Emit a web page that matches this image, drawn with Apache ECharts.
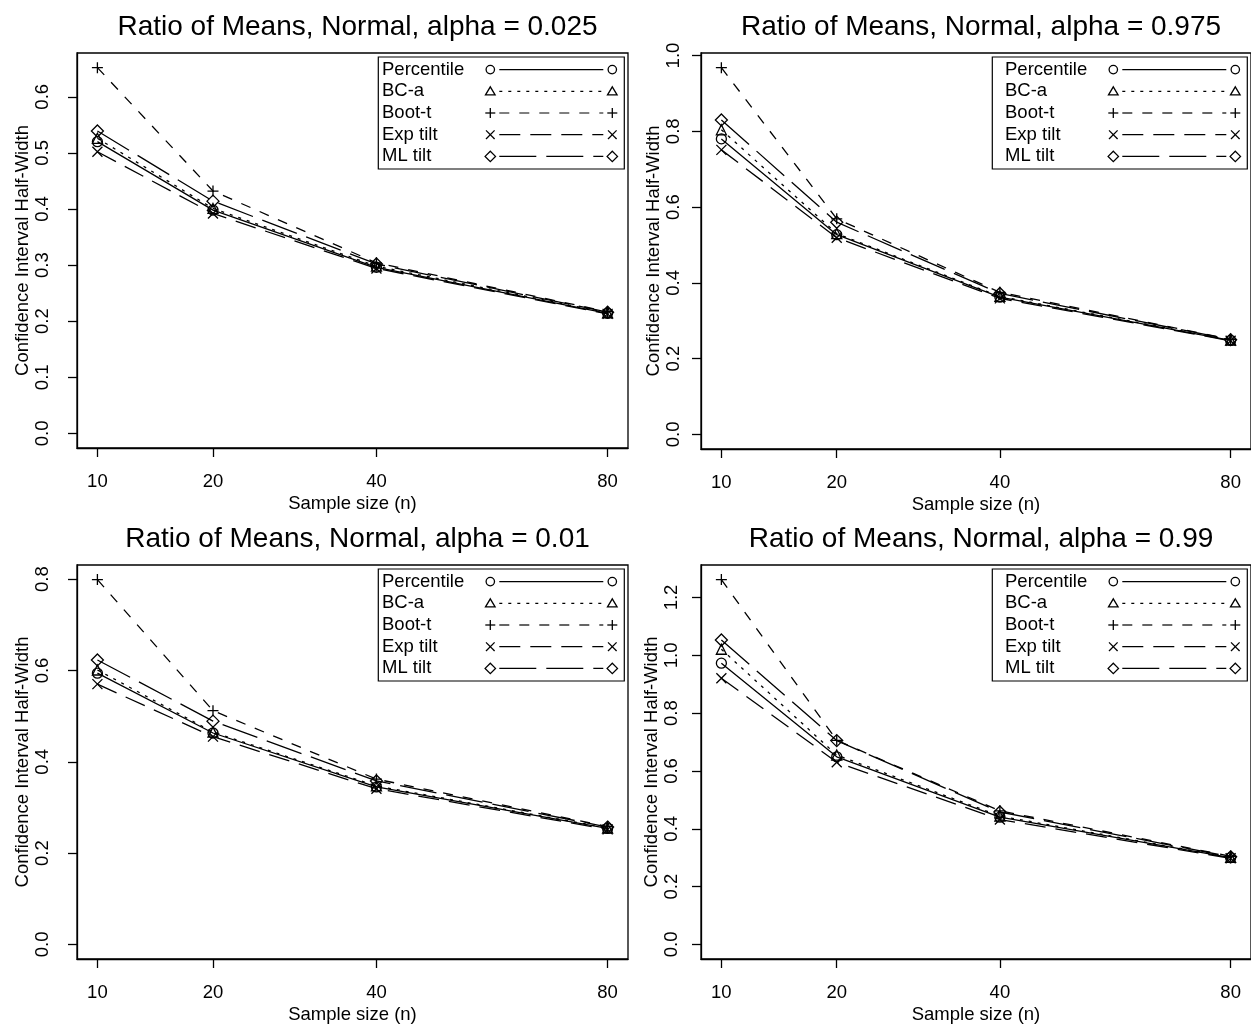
<!DOCTYPE html>
<html><head><meta charset="utf-8">
<script src="https://cdn.jsdelivr.net/npm/echarts@6/dist/echarts.min.js"></script>
<style>html,body{margin:0;padding:0;background:#fff}#c{width:1251px;height:1028px}</style>
</head><body><div id="c"></div>
<script>
// ---------- data ----------
const sampleSizes = [10, 20, 40, 80];
const methodNames = ['Percentile', 'BC-a', 'Boot-t', 'Exp tilt', 'ML tilt'];
const panelTitles = [
  'Ratio of Means, Normal, alpha = 0.025',
  'Ratio of Means, Normal, alpha = 0.975',
  'Ratio of Means, Normal, alpha = 0.01',
  'Ratio of Means, Normal, alpha = 0.99'
];
const xAxisTitle = 'Sample size (n)';
const yAxisTitle = 'Confidence Interval Half-Width';

// alpha = 0.025
const a025_percentile = [0.520, 0.398, 0.296, 0.214];
const a025_bca        = [0.526, 0.401, 0.298, 0.215];
const a025_boott      = [0.652, 0.432, 0.304, 0.217];
const a025_exptilt    = [0.502, 0.392, 0.294, 0.213];
const a025_mltilt     = [0.539, 0.414, 0.302, 0.216];
// alpha = 0.975
const a975_percentile = [0.780, 0.527, 0.362, 0.248];
const a975_bca        = [0.804, 0.530, 0.364, 0.249];
const a975_boott      = [0.968, 0.569, 0.375, 0.251];
const a975_exptilt    = [0.751, 0.519, 0.359, 0.247];
const a975_mltilt     = [0.830, 0.560, 0.372, 0.250];
// alpha = 0.01
const a01_percentile  = [0.594, 0.463, 0.345, 0.254];
const a01_bca         = [0.601, 0.465, 0.347, 0.255];
const a01_boott       = [0.799, 0.512, 0.362, 0.258];
const a01_exptilt     = [0.570, 0.455, 0.341, 0.252];
const a01_mltilt      = [0.623, 0.489, 0.358, 0.257];
// alpha = 0.99
const a99_percentile  = [0.973, 0.649, 0.440, 0.300];
const a99_bca         = [1.021, 0.655, 0.444, 0.301];
const a99_boott       = [1.262, 0.706, 0.462, 0.305];
const a99_exptilt     = [0.921, 0.630, 0.432, 0.298];
const a99_mltilt      = [1.053, 0.705, 0.458, 0.303];

// y tick labels per panel
const yTicks025 = [0.0, 0.1, 0.2, 0.3, 0.4, 0.5, 0.6];
const yTicks975 = [0.0, 0.2, 0.4, 0.6, 0.8, 1.0];
const yTicks01  = [0.0, 0.2, 0.4, 0.6, 0.8];
const yTicks99  = [0.0, 0.2, 0.4, 0.6, 0.8, 1.0, 1.2];

// ---------- layout / style ----------
const panels = [
  {data: [a025_percentile, a025_bca, a025_boott, a025_exptilt, a025_mltilt], ticks: yTicks025,
   grid: {left: 77, top: 53, width: 551, height: 395}, legW: 246, labMargin: 25, nameGap: 45},
  {data: [a975_percentile, a975_bca, a975_boott, a975_exptilt, a975_mltilt], ticks: yTicks975,
   grid: {left: 701, top: 53, width: 550, height: 396}, legW: 255, labMargin: 18, nameGap: 38},
  {data: [a01_percentile, a01_bca, a01_boott, a01_exptilt, a01_mltilt], ticks: yTicks01,
   grid: {left: 77, top: 565, width: 551, height: 394}, legW: 246, labMargin: 25, nameGap: 45},
  {data: [a99_percentile, a99_bca, a99_boott, a99_exptilt, a99_mltilt], ticks: yTicks99,
   grid: {left: 701, top: 565, width: 550, height: 394}, legW: 255, labMargin: 20, nameGap: 38}
];
const FONT = '"Liberation Sans", Arial, Helvetica, sans-serif';
const dashes = ['solid', [3, 6], [10, 10], [21, 10], [37, 10]];
const symbols = ['circle', 'triangle', 'path://M5,0L5,10M0,5L10,5', 'path://M0,0L10,10M10,0L0,10', 'diamond'];
const symSizes = [10, 10, 11, 10, 12];

const sq = sampleSizes.map(Math.sqrt);
const xMinRaw = sq[0], xMaxRaw = sq[sq.length - 1];
const xPad = (xMaxRaw - xMinRaw) * 0.04;

const option = {
  animation: false,
  backgroundColor: '#fff',
  textStyle: {fontFamily: FONT},
  title: [], grid: [], xAxis: [], yAxis: [], series: [], graphic: []
};

panels.forEach((p, pi) => {
  const g = p.grid;
  option.grid.push({left: g.left, top: g.top, width: g.width, height: g.height,
    show: true, borderColor: '#000', borderWidth: 1.3, backgroundColor: 'transparent', containLabel: false});
  option.title.push({text: panelTitles[pi], left: g.left + g.width / 2, top: g.top - 45, textAlign: 'center',
    textStyle: {fontFamily: FONT, fontSize: 28, fontWeight: 'normal', color: '#000'}});
  option.xAxis.push({
    type: 'value', gridIndex: pi, min: xMinRaw - xPad, max: xMaxRaw + xPad,
    splitLine: {show: false},
    axisLine: {show: true, onZero: false, lineStyle: {color: '#000', width: 1.3}},
    axisTick: {show: true, customValues: sq, length: 9, lineStyle: {color: '#000', width: 1.3}},
    axisLabel: {customValues: sq, formatter: v => String(Math.round(v * v)), fontSize: 18.5, color: '#000', margin: 24, fontFamily: FONT},
    name: xAxisTitle, nameLocation: 'middle', nameGap: 46,
    nameTextStyle: {fontSize: 18.5, color: '#000', fontFamily: FONT}
  });
  const M = Math.max(...p.data.flat());
  option.yAxis.push({
    type: 'value', gridIndex: pi, min: -0.04 * M, max: 1.04 * M,
    splitLine: {show: false},
    axisLine: {show: true, onZero: false, lineStyle: {color: '#000', width: 1.3}},
    axisTick: {show: true, customValues: p.ticks, length: 9, lineStyle: {color: '#000', width: 1.3}},
    axisLabel: {customValues: p.ticks, rotate: 90, formatter: v => Number(v).toFixed(1), fontSize: 18.5, color: '#000', margin: p.labMargin, fontFamily: FONT},
    name: yAxisTitle, nameLocation: 'middle', nameGap: p.nameGap, nameRotate: 90,
    nameTextStyle: {fontSize: 18.5, color: '#000', fontFamily: FONT}
  });
  p.data.forEach((vals, si) => {
    option.series.push({
      type: 'line', name: methodNames[si], xAxisIndex: pi, yAxisIndex: pi,
      data: vals.map((v, k) => [sq[k], v]),
      symbol: symbols[si], symbolSize: symSizes[si], showSymbol: true,
      itemStyle: {color: 'rgba(0,0,0,0)', borderColor: '#000', borderWidth: 1.3},
      lineStyle: {color: '#000', width: 1.3, type: dashes[si]},
      emphasis: {disabled: true}, silent: true, z: 3
    });
  });
  // legend box (R style: text, symbol, line, symbol)
  const right = g.left + g.width - 3.7, top = g.top + 4;
  const children = [{type: 'rect', shape: {x: right - p.legW, y: top, width: p.legW, height: 112},
    style: {fill: '#fff', stroke: '#000', lineWidth: 1.2}}];
  methodNames.forEach((nm, si) => {
    const cy = top + 12.6 + si * 21.7;
    const sR = right - 12, sL = sR - 122;
    children.push({type: 'text', x: sL - 108.3, y: cy,
      style: {text: nm, fontSize: 18.5, fontFamily: FONT, fill: '#000', verticalAlign: 'middle', align: 'left'}});
    const ls = {stroke: '#000', lineWidth: 1.2};
    if (dashes[si] !== 'solid') ls.lineDash = dashes[si];
    children.push({type: 'line', shape: {x1: sL + 9, y1: cy, x2: sR - 9, y2: cy}, style: ls});
    [sL, sR].forEach(cx => {
      const st = {fill: 'none', stroke: '#000', lineWidth: 1.3};
      const r = 4.2;
      if (si === 0) children.push({type: 'circle', shape: {cx, cy, r}, style: st});
      else if (si === 1) children.push({type: 'polygon', shape: {points: [[cx, cy - r - 0.3], [cx + r + 0.6, cy + r - 0.6], [cx - r - 0.6, cy + r - 0.6]]}, style: st});
      else if (si === 2) {
        children.push({type: 'line', shape: {x1: cx - 5, y1: cy, x2: cx + 5, y2: cy}, style: st});
        children.push({type: 'line', shape: {x1: cx, y1: cy - 5, x2: cx, y2: cy + 5}, style: st});
      } else if (si === 3) {
        children.push({type: 'line', shape: {x1: cx - 4.3, y1: cy - 4.3, x2: cx + 4.3, y2: cy + 4.3}, style: st});
        children.push({type: 'line', shape: {x1: cx + 4.3, y1: cy - 4.3, x2: cx - 4.3, y2: cy + 4.3}, style: st});
      } else children.push({type: 'polygon', shape: {points: [[cx, cy - 5.2], [cx + 5.2, cy], [cx, cy + 5.2], [cx - 5.2, cy]]}, style: st});
    });
  });
  option.graphic.push({type: 'group', silent: true, z: 10, children});
});

const chart = echarts.init(document.getElementById('c'));
chart.setOption(option);
</script></body></html>
